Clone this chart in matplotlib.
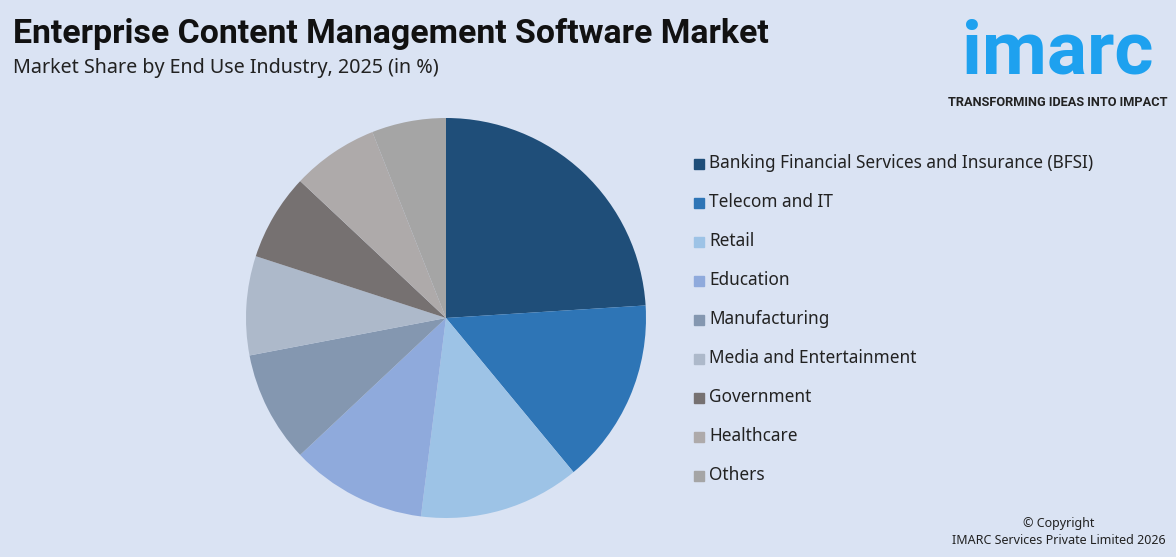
import matplotlib.pyplot as plt
from matplotlib.patches import Rectangle

categories = [
    "Banking Financial Services and Insurance (BFSI)",
    "Telecom and IT",
    "Retail",
    "Education",
    "Manufacturing",
    "Media and Entertainment",
    "Government",
    "Healthcare",
    "Others",
]
shares = [24, 15, 13, 11, 9, 8, 7, 7, 6]
colors = ["#1f4e79", "#2e75b6", "#9dc3e6", "#8faadc", "#8497b0",
          "#adb9ca", "#767171", "#aeaaaa", "#a5a5a5"]

bg = "#dae3f3"
plt.rcParams['font.family'] = ['Noto Sans', 'DejaVu Sans']

W, H = 1176, 557
fig = plt.figure(figsize=(W / 100, H / 100), dpi=100, facecolor=bg)

# pie
ax = fig.add_axes([246 / W, 39 / H, 400 / W, 400 / H])
ax.pie(shares, colors=colors, startangle=90, counterclock=False,
       radius=1.0, wedgeprops=dict(linewidth=0))
ax.set_xlim(-1, 1)
ax.set_ylim(-1, 1)
ax.set_aspect('equal')
ax.axis('off')

# legend drawn by hand
for i, (cat, col) in enumerate(zip(categories, colors)):
    y = 1 - (163 + 39 * i) / H
    fig.patches.append(Rectangle((694 / W, y - 6 / H), 10 / W, 10 / H,
                                 transform=fig.transFigure, color=col))
    fig.text(709 / W, y, cat, fontsize=12.4, color="#222222", va='center')

# titles
fig.text(13 / W, 1 - 34 / H, "Enterprise Content Management Software Market",
         fontsize=24.4, fontweight='bold', family='Roboto', color="#111111", va='center')
fig.text(13 / W, 1 - 68 / H, "Market Share by End Use Industry, 2025 (in %)",
         fontsize=14.2, color="#222222", va='center')

# logo
fig.text(1058 / W, 1 - 54 / H, "imarc", fontsize=54, fontweight='bold', family='Roboto',
         color="#1ea1ef", ha='center', va='center')
fig.text(1058 / W, 1 - 102 / H, "TRANSFORMING IDEAS INTO IMPACT", fontsize=9.2,
         fontweight='bold', family='Roboto', color="#222222", ha='center', va='center')

# copyright
fig.text(1059 / W, 1 - 523 / H, "© Copyright", fontsize=9, color="#222222",
         ha='center', va='center')
fig.text(1059 / W, 1 - 541 / H, "IMARC Services Private Limited 2026", fontsize=9,
         color="#222222", ha='center', va='center')

fig.savefig("out.png", dpi=100, facecolor=bg)
